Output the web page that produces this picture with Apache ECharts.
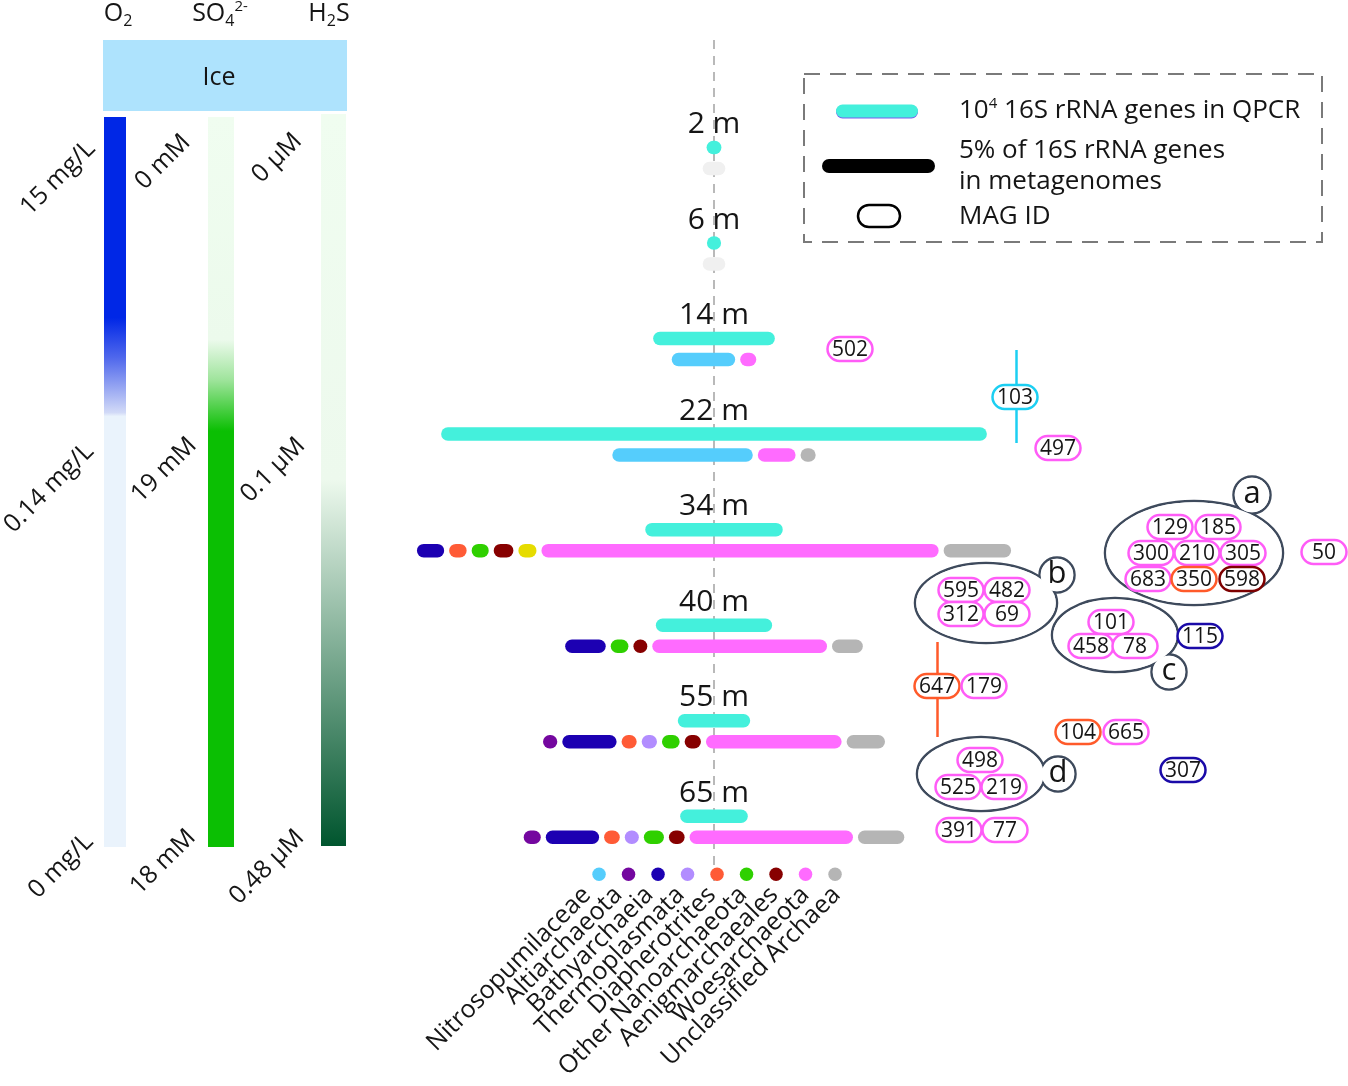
<!DOCTYPE html>
<html><head><meta charset="utf-8">
<script src="https://cdn.jsdelivr.net/npm/echarts@6/dist/echarts.min.js"></script>
<style>html,body{margin:0;padding:0;background:#fff}#c{width:1348px;height:1086px}</style>
</head><body><div id="c"></div>
<script>
// ---------------- DATA ----------------
const depths = ['2 m', '6 m', '14 m', '22 m', '34 m', '40 m', '55 m', '65 m'];
// archaeal 16S rRNA gene copies from qPCR, in units of 10^4
const qpcrCopies = [0.02, 0.01, 1.58, 7.77, 1.81, 1.50, 0.86, 0.79];

const categories = ['Nitrosopumilaceae', 'Altiarchaeota', 'Bathyarchaeia', 'Thermoplasmata',
  'Diapherotrites', 'Other Nanoarchaeota', 'Aenigmarchaeales', 'Woesarchaeota', 'Unclassified Archaea'];

// % of all 16S rRNA genes in metagenomes (null = not detected)
const nitrosopumilaceae   = [null, null, 2.51, 6.38, null, null, null, null];
const altiarchaeota       = [null, null, null, null, null, null, 0.04, 0.18];
const bathyarchaeia       = [null, null, null, null, 0.69, 1.36, 2.05, 2.00];
const thermoplasmata      = [null, null, null, null, null, null, 0.09, 0.03];
const diapherotrites      = [null, null, null, null, 0.20, null, 0.08, 0.11];
const otherNanoarchaeota  = [null, null, null, null, 0.18, 0.21, 0.21, 0.33];
const aenigmarchaeales    = [null, null, null, null, 0.31, 0.02, 0.14, 0.11];
const unlistedLineage     = [null, null, null, null, 0.23, null, null, null];
const woesarchaeota       = [null, null, 0.13, 1.22, 19.28, 8.10, 6.14, 7.53];
const unclassifiedArchaea = [null, null, null, 0.08, 2.71, 0.87, 1.25, 1.65];
const noMetagenome        = [0.46, 0.46, null, null, null, null, null, null];

// MAG IDs and their lineage (N Nitrosopumilaceae, B Bathyarchaeia, D Diapherotrites, A Aenigmarchaeales, W Woesarchaeota)
const magSingles = ['502', '103', '497', '50', '115', '647', '179', '104', '665', '307', '391', '77'];
const magSinglesLineage = ['W', 'N', 'W', 'W', 'B', 'D', 'W', 'D', 'W', 'B', 'W', 'W'];
const magGroupA = ['129', '185', '300', '210', '305', '683', '350', '598'];
const magGroupALineage = ['W', 'W', 'W', 'W', 'W', 'W', 'D', 'A'];
const magGroupB = ['595', '482', '312', '69'];
const magGroupBLineage = ['W', 'W', 'W', 'W'];
const magGroupC = ['101', '458', '78'];
const magGroupCLineage = ['W', 'W', 'W'];
const magGroupD = ['498', '525', '219'];
const magGroupDLineage = ['W', 'W', 'W'];

const o2Ticks = ['15 mg/L', '0.14 mg/L', '0 mg/L'];
const so4Ticks = ['0 mM', '19 mM', '18 mM'];
const h2sTicks = ['0 µM', '0.1 µM', '0.48 µM'];

// ---------------- STYLE / LAYOUT ----------------
const FONT = '"Open Sans", Lato, sans-serif';
const TXT = '#151515';
const CENTER_X = 714;
const PX_PER_PCT = 19.9;
const PX_PER_QPCR = 68.5;
const BAR_H = 13.5;
const GAP = 5;
const ROW0 = 124.4, ROW_STEP = 95.56;
const TEAL = '#44f0dc';
const catColors = ['#55cdfc', '#74079f', '#1c00b2', '#b28dff', '#ff5b36', '#2fd000', '#870000', '#ff6bff', '#b5b5b5'];
const lineageColor = { N: '#1ccff2', B: '#1a0aa8', D: '#ff5a2a', A: '#7d0000', W: '#ff5cf7' };

// drawing order of the segments inside each depth row
const metaSeries = [
  { v: nitrosopumilaceae, c: catColors[0] },
  { v: altiarchaeota, c: catColors[1] },
  { v: bathyarchaeia, c: catColors[2] },
  { v: diapherotrites, c: catColors[4] },
  { v: thermoplasmata, c: catColors[3] },
  { v: otherNanoarchaeota, c: catColors[5] },
  { v: aenigmarchaeales, c: catColors[6] },
  { v: unlistedLineage, c: '#e6dc00' },
  { v: woesarchaeota, c: catColors[7] },
  { v: unclassifiedArchaea, c: catColors[8] },
  { v: noMetagenome, c: '#f0f0f0' }
];

const singlesPos = [[850, 349], [1015, 397], [1058, 448], [1324, 552], [1200, 636], [937, 686], [984, 686],
  [1078, 732], [1126, 732], [1183, 770], [959, 830], [1005, 830]];
const groupLayouts = [
  { ids: magGroupA, lin: magGroupALineage, pos: [[1170, 527], [1218, 527], [1151, 553], [1197, 553], [1243, 553], [1148, 579], [1194, 579], [1242, 579]],
    e: [1194, 553, 89, 52], b: [1252, 495, 18.5], letter: 'a' },
  { ids: magGroupB, lin: magGroupBLineage, pos: [[961, 590], [1007, 590], [961, 614], [1007, 614]],
    e: [986, 603, 71, 40], b: [1057, 575, 17.5], letter: 'b' },
  { ids: magGroupC, lin: magGroupCLineage, pos: [[1111, 622], [1091, 646], [1135, 646]],
    e: [1115, 635, 63, 37], b: [1169, 672, 17.5], letter: 'c' },
  { ids: magGroupD, lin: magGroupDLineage, pos: [[980, 760], [958, 787], [1004, 787]],
    e: [981, 774, 64, 37], b: [1058, 774, 17.5], letter: 'd' }
];

// ---------------- GRAPHIC HELPERS ----------------
const g = [];
function pill(cx, cy, id, color) {
  g.push({ type: 'rect', z: 10, shape: { x: cx - 22.5, y: cy - 12, width: 45, height: 24, r: 12 },
    style: { fill: '#fff', stroke: color, lineWidth: 2.5 } });
  g.push({ type: 'text', z: 11, x: cx, y: cy + 1, style: { text: id, fill: TXT, font: '21px ' + FONT, align: 'center', verticalAlign: 'middle' } });
}
function txt(x, y, text, size, extra) {
  g.push(Object.assign({ type: 'text', z: 5, x, y, style: Object.assign({ text, fill: TXT, font: size + 'px ' + FONT, align: 'center', verticalAlign: 'middle' }, (extra && extra.style) || {}) }, (extra && extra.el) || {}));
}

// dashed centre line
g.push({ type: 'line', z: 0, shape: { x1: CENTER_X, y1: 40, x2: CENTER_X, y2: 885 }, style: { stroke: '#b9b9b9', lineWidth: 2, lineDash: [9, 7] } });

// ice box and headers
g.push({ type: 'rect', shape: { x: 103, y: 40, width: 244, height: 71 }, style: { fill: '#aee3fd' } });
txt(219, 78, 'Ice', 25);
const rich = { b: { fontSize: 25, fontFamily: FONT, fill: TXT, lineHeight: 30 },
  s: { fontSize: 16, fontFamily: FONT, fill: TXT, lineHeight: 14, verticalAlign: 'bottom' },
  p: { fontSize: 15, fontFamily: FONT, fill: TXT, lineHeight: 14, verticalAlign: 'top' } };
g.push({ type: 'text', x: 118, y: 14, style: { text: '{b|O}{s|2}', rich, align: 'center', verticalAlign: 'middle' } });
g.push({ type: 'text', x: 220, y: 14, style: { text: '{b|SO}{s|4}{p|2-}', rich, align: 'center', verticalAlign: 'middle' } });
g.push({ type: 'text', x: 329, y: 14, style: { text: '{b|H}{s|2}{b|S}', rich, align: 'center', verticalAlign: 'middle' } });

// profile bars
g.push({ type: 'rect', shape: { x: 104, y: 117, width: 22, height: 730 }, style: { fill: { type: 'linear', x: 0, y: 0, x2: 0, y2: 1,
  colorStops: [{ offset: 0, color: '#0027e6' }, { offset: 0.275, color: '#0027e6' }, { offset: 0.33, color: '#5068ec' },
    { offset: 0.405, color: '#d2daf7' }, { offset: 0.41, color: '#eaf3fc' }, { offset: 1, color: '#eaf3fc' }] } } });
g.push({ type: 'rect', shape: { x: 208, y: 117, width: 26, height: 730 }, style: { fill: { type: 'linear', x: 0, y: 0, x2: 0, y2: 1,
  colorStops: [{ offset: 0, color: '#f0fdf0' }, { offset: 0.305, color: '#ecfaec' }, { offset: 0.36, color: '#9fe49c' },
    { offset: 0.43, color: '#0bbf03' }, { offset: 1, color: '#0bbf03' }] } } });
g.push({ type: 'rect', shape: { x: 321, y: 114, width: 25, height: 732 }, style: { fill: { type: 'linear', x: 0, y: 0, x2: 0, y2: 1,
  colorStops: [{ offset: 0, color: '#f0fdf0' }, { offset: 0.5, color: '#edf9ed' }, { offset: 1, color: '#00552e' }] } } });

// profile tick labels (rotated 45°)
const tickCenters = [
  [o2Ticks, [[58, 178], [49, 488], [61, 866]]],
  [so4Ticks, [[163, 162], [164, 470], [163, 862]]],
  [h2sTicks, [[277, 158], [273, 470], [267, 867]]]
];
tickCenters.forEach(([labels, pos]) => labels.forEach((t, i) =>
  g.push({ type: 'text', x: pos[i][0], y: pos[i][1], rotation: Math.PI / 4,
    style: { text: t, fill: TXT, font: '25px ' + FONT, align: 'center', verticalAlign: 'middle' } })));

// legend box
g.push({ type: 'rect', shape: { x: 804, y: 74, width: 518, height: 168 }, style: { fill: 'none', stroke: '#7a7a7a', lineWidth: 2, lineDash: [16, 10] } });
g.push({ type: 'rect', shape: { x: 836, y: 104.5, width: 82, height: 13, r: 6.5 }, style: { fill: TEAL, shadowColor: '#7a5cf0', shadowOffsetY: 1 } });
g.push({ type: 'rect', shape: { x: 822, y: 159, width: 113, height: 14, r: 7 }, style: { fill: '#000' } });
g.push({ type: 'rect', shape: { x: 858, y: 205, width: 42, height: 22, r: 11 }, style: { fill: '#fff', stroke: '#000', lineWidth: 2.5 } });
const lrich = { t: { fontSize: 26, fontFamily: FONT, fill: TXT, lineHeight: 30 }, p: { fontSize: 15, fontFamily: FONT, fill: TXT, lineHeight: 15, verticalAlign: 'top' } };
g.push({ type: 'text', x: 959, y: 111, style: { text: '{t|10}{p|4}{t| 16S rRNA genes in QPCR}', rich: lrich, align: 'left', verticalAlign: 'middle' } });
txt(959, 151, '5% of 16S rRNA genes', 26, { style: { align: 'left' } });
txt(959, 182, 'in metagenomes', 26, { style: { align: 'left' } });
txt(959, 217, 'MAG ID', 26, { style: { align: 'left' } });

// connector lines
g.push({ type: 'line', z: 3, shape: { x1: 1016.5, y1: 350, x2: 1016.5, y2: 443 }, style: { stroke: lineageColor.N, lineWidth: 2.5 } });
g.push({ type: 'line', z: 3, shape: { x1: 937.5, y1: 642, x2: 937.5, y2: 737 }, style: { stroke: lineageColor.D, lineWidth: 2.5 } });

// MAG groups
groupLayouts.forEach(gr => {
  const [ex, ey, rx, ry] = gr.e, [bx, by, br] = gr.b;
  const st = { stroke: '#3e4a5c', lineWidth: 2.5, fill: '#fff' };
  g.push({ type: 'ellipse', z: 6, shape: { cx: ex, cy: ey, rx, ry }, style: st });
  g.push({ type: 'circle', z: 6, shape: { cx: bx, cy: by, r: br }, style: st });
  g.push({ type: 'ellipse', z: 7, shape: { cx: ex, cy: ey, rx: rx - 1.2, ry: ry - 1.2 }, style: { fill: '#fff' } });
  g.push({ type: 'circle', z: 7, shape: { cx: bx, cy: by, r: br - 1.2 }, style: { fill: '#fff' } });
  g.push({ type: 'text', z: 8, x: bx, y: by - 1, style: { text: gr.letter, fill: TXT, font: '31px ' + FONT, align: 'center', verticalAlign: 'middle' } });
  gr.ids.forEach((id, i) => pill(gr.pos[i][0], gr.pos[i][1], id, lineageColor[gr.lin[i]]));
});
magSingles.forEach((id, i) => pill(singlesPos[i][0], singlesPos[i][1], id, lineageColor[magSinglesLineage[i]]));

// ---------------- CHART ----------------
const chart = echarts.init(document.getElementById('c'), null, { renderer: 'canvas' });
chart.setOption({
  animation: false,
  backgroundColor: '#fff',
  grid: [
    { left: 0, width: 1348, top: ROW0 - ROW_STEP / 2, height: ROW_STEP * depths.length, outerBoundsMode: 'none' },
    { left: 584.3, width: 265.5, top: 867.3, height: 14, outerBoundsMode: 'none' },
    { left: 571.4, width: 280.8, top: 866, height: 12, outerBoundsMode: 'none' }
  ],
  xAxis: [
    { type: 'value', gridIndex: 0, min: -CENTER_X / PX_PER_PCT, max: (1348 - CENTER_X) / PX_PER_PCT, show: false },
    { type: 'value', gridIndex: 0, min: -CENTER_X / PX_PER_QPCR, max: (1348 - CENTER_X) / PX_PER_QPCR, show: false },
    { type: 'category', gridIndex: 1, data: categories, show: false },
    { type: 'category', gridIndex: 2, data: categories, position: 'bottom',
      axisLine: { show: false }, axisTick: { show: false }, splitLine: { show: false },
      axisLabel: { rotate: 45, interval: 0, margin: 13, fontSize: 25, fontFamily: FONT, color: TXT } }
  ],
  yAxis: [
    { type: 'category', gridIndex: 0, data: depths, inverse: true, show: false },
    { type: 'value', gridIndex: 1, min: -1, max: 1, show: false },
    { type: 'value', gridIndex: 2, min: 0, max: 1, show: false }
  ],
  graphic: { elements: g },
  series: [
    {
      type: 'custom', name: 'qPCR', xAxisIndex: 1, yAxisIndex: 0, clip: false, z: 4,
      encode: { x: 0, y: 1 },
      data: depths.map((d, i) => [0, i, qpcrCopies[i]]),
      renderItem: (params, api) => {
        const i = api.value(1);
        const c = api.coord([0, i]);
        const w = api.size([api.value(2), 0])[0] + BAR_H;
        return { type: 'group', children: [
          { type: 'text', style: { text: depths[i], x: c[0], y: c[1], fill: TXT, font: '30px ' + FONT, align: 'center', verticalAlign: 'middle' } },
          { type: 'rect', shape: { x: c[0] - w / 2, y: c[1] + 23 - BAR_H / 2, width: w, height: BAR_H, r: BAR_H / 2 }, style: { fill: TEAL } }
        ] };
      }
    },
    {
      type: 'custom', name: 'metagenome', xAxisIndex: 0, yAxisIndex: 0, clip: false, z: 4,
      encode: { x: 0, y: 1 },
      data: depths.map((d, i) => [0, i]),
      renderItem: (params, api) => {
        const i = api.value(1);
        const c = api.coord([0, i]);
        const segs = [];
        metaSeries.forEach(s => { const v = s.v[i]; if (v != null) segs.push({ w: api.size([v, 0])[0] + BAR_H, c: s.c }); });
        const total = segs.reduce((a, s) => a + s.w, 0) + GAP * (segs.length - 1);
        let x = c[0] - total / 2;
        const y = c[1] + 44 - BAR_H / 2;
        const children = [];
        segs.forEach(s => {
          children.push({ type: 'rect', shape: { x, y, width: s.w, height: BAR_H, r: BAR_H / 2 }, style: { fill: s.c } });
          x += s.w + GAP;
        });
        return { type: 'group', children };
      }
    },
    {
      type: 'scatter', xAxisIndex: 2, yAxisIndex: 1, symbolSize: 13.5, z: 4,
      data: categories.map((c, i) => ({ value: [i, 0], itemStyle: { color: catColors[i], opacity: 1 } }))
    }
  ]
});
</script></body></html>
